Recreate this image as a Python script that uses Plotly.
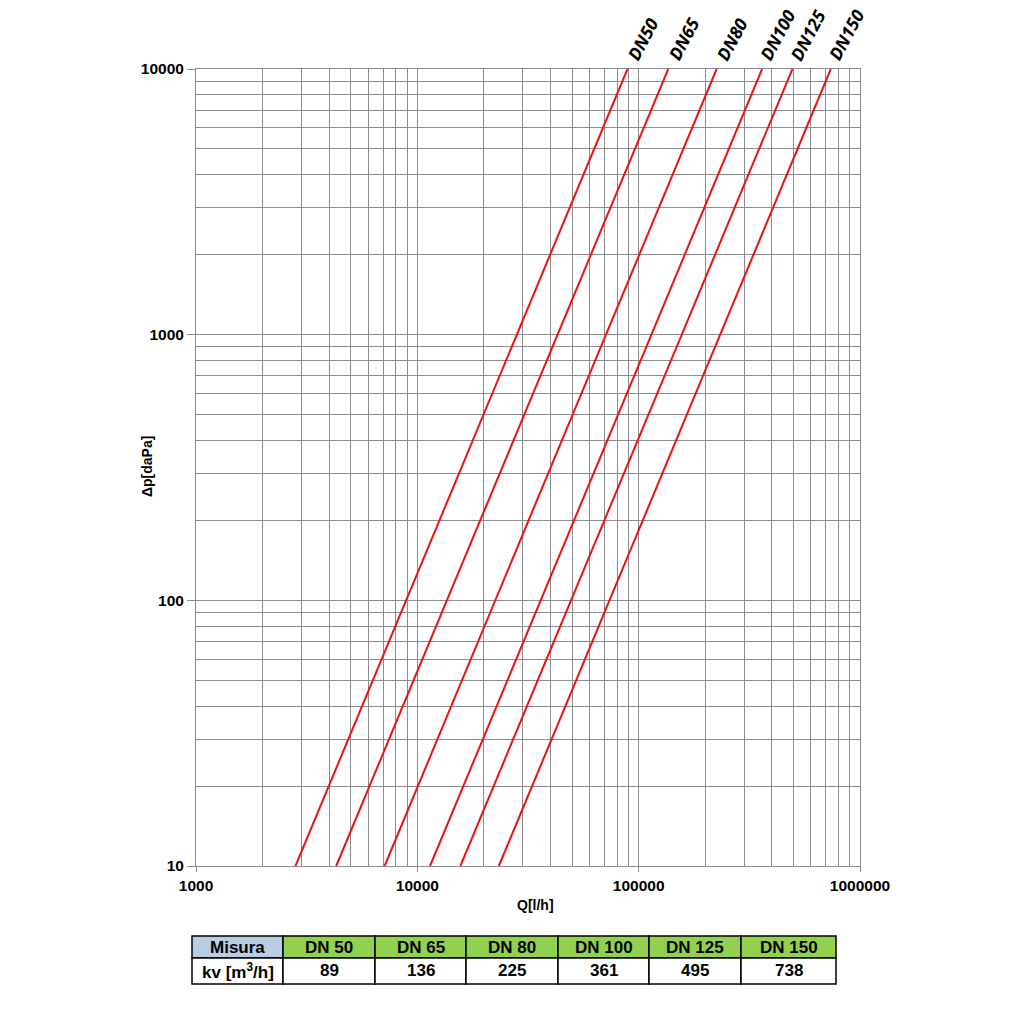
import math
import plotly.graph_objects as go

# Series: DN size, kv, and flow at the chart's bottom (10 daPa) and top (10000 daPa)
sizes = ["DN50", "DN65", "DN80", "DN100", "DN125", "DN150"]
table_sizes = ["DN 50", "DN 65", "DN 80", "DN 100", "DN 125", "DN 150"]
kv_values = [89, 136, 225, 361, 495, 738]
q_low = [2815, 4300, 7115, 11415, 15650, 23340]       # Q [l/h] at Δp = 10 daPa
q_high = [89000, 136000, 225000, 361000, 495000, 738000]  # Q [l/h] at Δp = 10000 daPa
dp_ends = [10, 10000]

x_decades = [1000, 10000, 100000, 1000000]
y_decades = [10, 100, 1000, 10000]
x_minor = [m * d for d in [1000, 10000, 100000] for m in range(2, 10)]
y_minor = [m * d for d in [10, 100, 1000] for m in range(2, 10)]

W, H = 1023, 1024
L, R, T, B = 196, 860, 69, 866

fig = go.Figure()
for name, a, b in zip(sizes, q_low, q_high):
    fig.add_trace(go.Scatter(x=[a, b], y=dp_ends, mode="lines", name=name,
                             line=dict(color="#ee1111", width=2), showlegend=False))

grid = "#8c8c8c"
tfont = dict(family="Liberation Sans", size=15.5, color="black")
fig.update_xaxes(type="log", range=[3, 6], tickvals=x_decades,
                 ticktext=["<b>" + str(v) + "</b>" for v in x_decades],
                 tickfont=tfont,
                 showgrid=True, gridcolor=grid, gridwidth=1,
                 minor=dict(tickvals=x_minor, showgrid=True, gridcolor=grid, gridwidth=1, ticks=""),
                 ticks="outside", ticklen=5, tickcolor=grid,
                 showline=True, linecolor=grid, mirror=True, zeroline=False)
fig.update_yaxes(type="log", range=[1, 4], tickvals=y_decades,
                 ticktext=["<b>" + str(v) + "</b>" for v in y_decades],
                 tickfont=tfont,
                 showgrid=True, gridcolor=grid, gridwidth=1,
                 minor=dict(tickvals=y_minor, showgrid=True, gridcolor=grid, gridwidth=1, ticks=""),
                 ticks="outside", ticklen=8, tickcolor=grid,
                 showline=True, linecolor=grid, mirror=True, zeroline=False)

pw, ph = R - L, B - T
def px(xp):
    return (xp - L) / pw
def py(yp):
    return (B - yp) / ph

# Axis titles
fig.add_annotation(xref="paper", yref="paper", x=px(535), y=py(905), text="<b>Q[l/h]</b>",
                   showarrow=False, xanchor="center", yanchor="middle",
                   font=dict(family="Liberation Sans", size=14, color="black"))
fig.add_annotation(xref="paper", yref="paper", x=px(147), y=py(467), text="<b>Δp[daPa]</b>",
                   textangle=-90, showarrow=False, xanchor="center", yanchor="middle",
                   font=dict(family="Liberation Sans", size=14, color="black"))

# DN labels above the line ends
for name, b in zip(sizes, q_high):
    fig.add_annotation(x=math.log10(b), y=1, xref="x", yref="paper", text="<b><i>" + name + "</i></b>",
                       textangle=-62, showarrow=False, xanchor="center", yanchor="bottom",
                       xshift=15, yshift=2,
                       font=dict(family="Noto Sans", size=17.5, color="black", weight="bold", style="italic"))

# Table under the chart (paper coordinates)
col_edges = [192, 283, 375, 466, 558, 649, 741, 836]
row_edges = [936, 958, 984]
headers = ["Misura"] + table_sizes
values = ["kv [m<sup>3</sup>/h]"] + [str(v) for v in kv_values]
for i in range(len(col_edges) - 1):
    x0, x1 = col_edges[i], col_edges[i + 1]
    fill = "#b8cce4" if i == 0 else "#92d050"
    fig.add_shape(type="rect", xref="paper", yref="paper", x0=px(x0), x1=px(x1),
                  y0=py(row_edges[1]), y1=py(row_edges[0]), fillcolor=fill,
                  line=dict(color="black", width=1.5))
    fig.add_shape(type="rect", xref="paper", yref="paper", x0=px(x0), x1=px(x1),
                  y0=py(row_edges[2]), y1=py(row_edges[1]), fillcolor="white",
                  line=dict(color="black", width=1.5))
    fig.add_annotation(xref="paper", yref="paper", x=px((x0 + x1) / 2), y=py((row_edges[0] + row_edges[1]) / 2),
                       text="<b>" + headers[i] + "</b>", showarrow=False,
                       xanchor="center", yanchor="middle",
                       font=dict(family="Liberation Sans", size=17, color="black"))
    fig.add_annotation(xref="paper", yref="paper", x=px((x0 + x1) / 2), y=py((row_edges[1] + row_edges[2]) / 2),
                       text="<b>" + values[i] + "</b>", showarrow=False,
                       xanchor="center", yanchor="middle",
                       font=dict(family="Liberation Sans", size=17, color="black"))

fig.update_layout(width=W, height=H, margin=dict(l=L, r=W - R, t=T, b=H - B, autoexpand=False),
                  plot_bgcolor="white", paper_bgcolor="white")
fig.write_html("out.html")
